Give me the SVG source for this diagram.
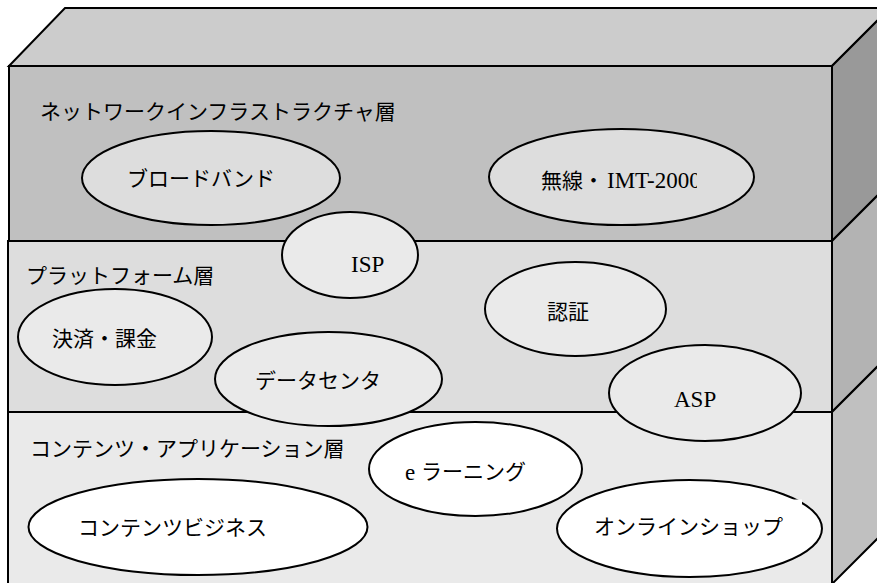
<svg xmlns="http://www.w3.org/2000/svg" width="877" height="583" viewBox="0 0 877 583">
<style>
.edge{stroke:#000;stroke-width:2;stroke-linejoin:miter}
.ell{stroke:#000;stroke-width:2}
.jp{font-family:"Noto Sans CJK JP","Noto Sans",sans-serif;font-size:21px;fill:#000}
.lat{font-family:"Liberation Serif",serif;font-size:23px;fill:#000}
</style>
<defs>
<clipPath id="clipImt"><rect x="530" y="160" width="167" height="40"/></clipPath>
</defs>
<rect width="877" height="583" fill="#fff"/>
<g id="box">
<polygon class="edge" points="9,66 65,8 890,8 832,66" fill="#cccccc"/>
<polygon class="edge" points="832,66 890,8 890,183 832,241" fill="#999999"/>
<polygon class="edge" points="832,241 890,183 890,354 832,412" fill="#b3b3b3"/>
<polygon class="edge" points="832,412 890,354 890,526 832,584" fill="#c0c0c0"/>
</g>
<g id="layer-network">
<rect class="edge" x="9" y="66" width="823" height="175" fill="#c0c0c0"/>
<text class="jp" x="40" y="118.5">ネットワークインフラストラクチャ層</text>
</g>
<g id="layer-platform">
<rect class="edge" x="8" y="241" width="824" height="171" fill="#dddddd"/>
<text class="jp" x="26" y="282.5">プラットフォーム層</text>
</g>
<g id="layer-contents">
<rect class="edge" x="8" y="412" width="824" height="175" fill="#eaeaea"/>
<text class="jp" x="30" y="455.5">コンテンツ・アプリケーション層</text>
</g>
<g id="broadband">
<ellipse class="ell" cx="211" cy="178" rx="129" ry="47" fill="#dddddd"/>
<text class="jp" x="127" y="185.5">ブロードバンド</text>
</g>
<g id="wireless">
<ellipse class="ell" cx="621.5" cy="177" rx="132.5" ry="48" fill="#dddddd"/>
<text clip-path="url(#clipImt)" x="541" y="188"><tspan class="jp">無線・</tspan><tspan class="lat" x="607">IMT-2000</tspan></text>
</g>
<g id="isp">
<ellipse class="ell" cx="350" cy="255" rx="68" ry="43" fill="#eaeaea"/>
<text class="lat" x="351" y="272">ISP</text>
</g>
<g id="auth">
<ellipse class="ell" cx="575.5" cy="309" rx="90.5" ry="47" fill="#eaeaea"/>
<text class="jp" x="547" y="318.5">認証</text>
</g>
<g id="payment">
<ellipse class="ell" cx="115" cy="337" rx="97" ry="48" fill="#eaeaea"/>
<text class="jp" x="52" y="346">決済・課金</text>
</g>
<g id="datacenter">
<ellipse class="ell" cx="328.5" cy="379" rx="113.5" ry="47" fill="#eaeaea"/>
<text class="jp" x="255" y="387.5">データセンタ</text>
</g>
<g id="asp">
<ellipse class="ell" cx="705" cy="393" rx="96" ry="48" fill="#eaeaea"/>
<text class="lat" x="674" y="407">ASP</text>
</g>
<g id="elearning">
<ellipse class="ell" cx="475.5" cy="469" rx="106.5" ry="47" fill="#ffffff"/>
<text x="405" y="480"><tspan class="lat">e</tspan><tspan class="jp" x="421" y="478.5">ラーニング</tspan></text>
</g>
<g id="contents-business">
<ellipse class="ell" cx="198" cy="527" rx="169.5" ry="48" fill="#ffffff"/>
<text class="jp" x="78" y="535">コンテンツビジネス</text>
</g>
<g id="online-shop">
<ellipse class="ell" cx="689.5" cy="528.5" rx="132.5" ry="48.5" fill="#ffffff"/>
<rect x="586" y="499.5" width="216" height="48" fill="#ffffff"/>
<text class="jp" x="594" y="534">オンラインショップ</text>
</g>
<g id="connectors"/>
</svg>
